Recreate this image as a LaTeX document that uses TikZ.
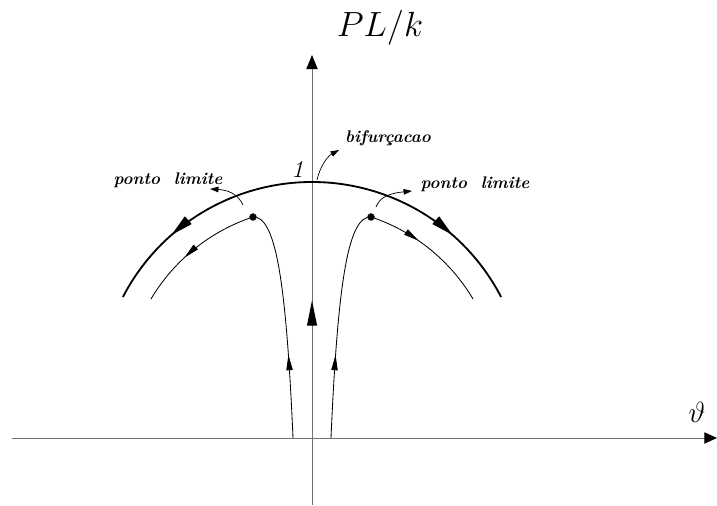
\documentclass[tikz,border=0pt]{standalone}
\usetikzlibrary{arrows.meta,calc,decorations.markings}
\definecolor{AxisGrey}{HTML}{707070}
\definecolor{Ink}{HTML}{000000}
\definecolor{DotGrey}{HTML}{3A3A3A}

\begin{document}
\begin{tikzpicture}[x=0.025cm,y=0.025cm,>=Triangle,every node/.style={text=Ink},
 axis/.style={AxisGrey,line width=0.7pt},branch/.style={Ink,line width=1.3pt},orbit/.style={Ink,line width=0.6pt},
 midarrow/.style 2 args={postaction={decorate},decoration={markings,mark=at position #1 with {\arrow{#2}}}},
 lbl/.style={font=\large\bfseries\itshape},hint/.style={Ink,line width=0.5pt,-{Triangle[length=6pt,width=4pt]}}]
\useasboundingbox(0,0)rectangle(717,506);
\coordinate(O)at(312,111);\coordinate(Hs)at(12,68);\coordinate(He)at(717,68);\coordinate(Vs)at(312,1);\coordinate(Ve)at(312,451);
\draw[axis,-{Triangle[length=9pt,width=8pt,color=Ink]}](Hs)--(He);\draw[axis,-{Triangle[length=10pt,width=8pt,color=Ink]},midarrow={0.455}{Triangle[length=18pt,width=7pt,color=Ink]}](Vs)--(Ve);
\node(pl)at(380,478){\Huge$PL/k$};\node(th)at(697,94){\huge$\vartheta$};
% main branch
\draw[branch,midarrow={0.66}{Triangle[length=16pt,width=7pt]}]($(O)+(90:213)$)arc(90:152.6:213);
\draw[branch,midarrow={0.66}{Triangle[length=16pt,width=7pt]}]($(O)+(90:213)$)arc(90:27.4:213);
% limit point paths
\coordinate(Dl)at(253,289);\coordinate(Dr)at(371,289);
\draw[orbit,midarrow={0.36}{Triangle[length=11pt,width=4.5pt]}](293,68)..controls(286,230)and(275,290)..(Dl);
\draw[orbit,midarrow={0.36}{Triangle[length=11pt,width=4.5pt]}](331,68)..controls(338,230)and(349,290)..(Dr);
\draw[orbit,midarrow={0.6}{Triangle[length=11pt,width=4.5pt]}](Dl)arc(108.3:149.3:187);
\draw[orbit,midarrow={0.4}{Triangle[length=11pt,width=4.5pt]}](Dr)arc(71.7:30.7:187);
\fill[Ink,draw=DotGrey](Dl)circle(3.5);\fill[Ink,draw=DotGrey](Dr)circle(3.5);
% labels
\node(one)at(299,336){\LARGE$\mathit{1}$};
\node[lbl](bif)at(388,368){bifurçacao};\node[lbl](lpl)at(168,326){ponto~~limite};\node[lbl](lpr)at(475,322){ponto~~limite};
\draw[hint](317,326)..controls(320,340)and(328,350)..(339,356);
\draw[hint](243,301)..controls(238,312)and(228,316)..(210,317);
\draw[hint](376,299)..controls(380,310)and(392,313)..(412,315);
\end{tikzpicture}
\end{document}
